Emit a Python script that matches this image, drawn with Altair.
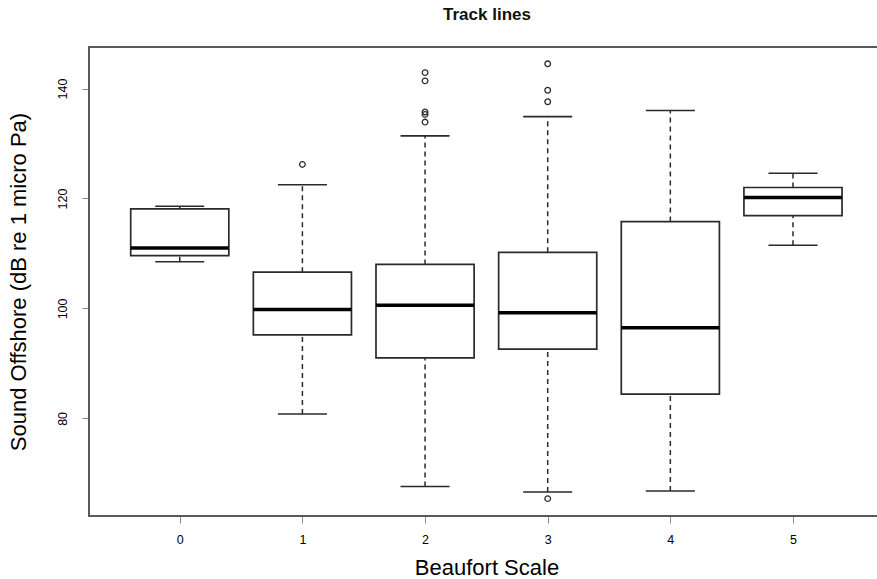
import altair as alt
import pandas as pd

# Sound levels offshore along track lines, grouped by Beaufort sea state
categories = [0, 1, 2, 3, 4, 5]
lower_whisker = [108.5, 80.8, 67.6, 66.6, 66.8, 111.5]
q1 = [109.6, 95.2, 91.0, 92.6, 84.4, 116.9]
median = [111.0, 99.8, 100.6, 99.2, 96.5, 120.2]
q3 = [118.1, 106.6, 108.0, 110.2, 115.8, 122.0]
upper_whisker = [118.6, 122.5, 131.4, 134.9, 136.0, 124.6]

outlier_category = [1, 2, 2, 2, 2, 2, 3, 3, 3, 3]
outlier_value = [126.2, 142.9, 141.4, 135.75, 135.3, 133.9, 144.5, 139.7, 137.6, 65.4]

y_ticks = [80, 100, 120, 140]

boxes = pd.DataFrame({
    "beaufort": categories,
    "lower": lower_whisker,
    "q1": q1,
    "median": median,
    "q3": q3,
    "upper": upper_whisker,
})
points = pd.DataFrame({"beaufort": outlier_category, "value": outlier_value})

FONT = "Liberation Sans"
INK = "#2a2a2a"
FRAME = "#5a5a5a"

W, H = 788, 469

# the plot region runs on past the right edge of the page, so only part of it shows
x_scale = alt.Scale(domain=[-0.74, 5.685], nice=False, zero=False)
y_scale = alt.Scale(domain=[62.24, 147.56], nice=False, zero=False)

x_axis = alt.Axis(
    values=categories, format="d", title="Beaufort Scale", grid=False, domain=False,
    tickSize=7, labelPadding=10, labelBaseline="top", labelFontSize=12.5,
    titleFontSize=22, titleFontWeight="normal", titleX=397.5, titleY=51,
    titleAlign="center", titleBaseline="middle",
)
y_axis = alt.Axis(
    values=y_ticks, format="d", title="Sound Offshore (dB re 1 micro Pa)",
    grid=False, domain=False,
    tickSize=7, labelPadding=13, labelAngle=270, labelAlign="center",
    labelBaseline="bottom", labelFontSize=12.5,
    titleFontSize=22, titleFontWeight="normal", titleAngle=270,
    titleX=-71, titleY=234.5, titleAlign="center", titleBaseline="middle",
)

base = alt.Chart(boxes).transform_calculate(
    box_lo="datum.beaufort - 0.4",
    box_hi="datum.beaufort + 0.4",
    cap_lo="datum.beaufort - 0.2",
    cap_hi="datum.beaufort + 0.2",
)

dash = [5, 4]

# plot frame: left, top and bottom edges; the right edge lies off the page
frame = alt.Chart(pd.DataFrame({"edge": [0]})).mark_rect(
    fill="white", stroke=FRAME, strokeWidth=2
).encode(
    x=alt.value(0), x2=alt.value(W + 20), y=alt.value(0), y2=alt.value(H)
)

upper_stem = base.mark_rule(color=INK, strokeWidth=1.5, strokeDash=dash).encode(
    x=alt.X("beaufort:Q", scale=x_scale, axis=x_axis),
    y=alt.Y("q3:Q", scale=y_scale, axis=y_axis),
    y2="upper:Q",
)
lower_stem = base.mark_rule(color=INK, strokeWidth=1.5, strokeDash=dash).encode(
    x=alt.X("beaufort:Q", scale=x_scale),
    y=alt.Y("lower:Q", scale=y_scale),
    y2="q1:Q",
)
upper_cap = base.mark_rule(color=INK, strokeWidth=1.6).encode(
    x=alt.X("cap_lo:Q", scale=x_scale),
    x2="cap_hi:Q",
    y=alt.Y("upper:Q", scale=y_scale),
)
lower_cap = base.mark_rule(color=INK, strokeWidth=1.6).encode(
    x=alt.X("cap_lo:Q", scale=x_scale),
    x2="cap_hi:Q",
    y=alt.Y("lower:Q", scale=y_scale),
)
box = base.mark_rect(fill="white", stroke=INK, strokeWidth=1.7).encode(
    x=alt.X("box_lo:Q", scale=x_scale),
    x2="box_hi:Q",
    y=alt.Y("q1:Q", scale=y_scale),
    y2="q3:Q",
)
mid = base.mark_rule(color="black", strokeWidth=3.5).encode(
    x=alt.X("box_lo:Q", scale=x_scale),
    x2="box_hi:Q",
    y=alt.Y("median:Q", scale=y_scale),
)
outliers = alt.Chart(points).mark_point(
    shape="circle", filled=False, size=32, color=INK, strokeWidth=1.3, opacity=1
).encode(
    x=alt.X("beaufort:Q", scale=x_scale),
    y=alt.Y("value:Q", scale=y_scale),
)

chart = alt.layer(
    frame, upper_stem, lower_stem, upper_cap, lower_cap, box, mid, outliers
).properties(
    width=W,
    height=H,
    title=alt.TitleParams(
        "Track lines", fontSize=17, fontWeight="bold", font=FONT, color="#111",
        anchor="middle", baseline="alphabetic", offset=9, dx=4,
    ),
    autosize=alt.AutoSizeParams(type="none"),
    padding={"left": 89, "top": 47, "right": 0, "bottom": 63},
).configure_view(
    stroke=None
).configure_axis(
    grid=False, domain=False, labelFont=FONT, titleFont=FONT,
    labelColor=INK, titleColor="#111", tickColor=INK, tickWidth=1.3,
).configure(background="white")

chart.save("out.html", embed_options={"renderer": "svg", "actions": False})
